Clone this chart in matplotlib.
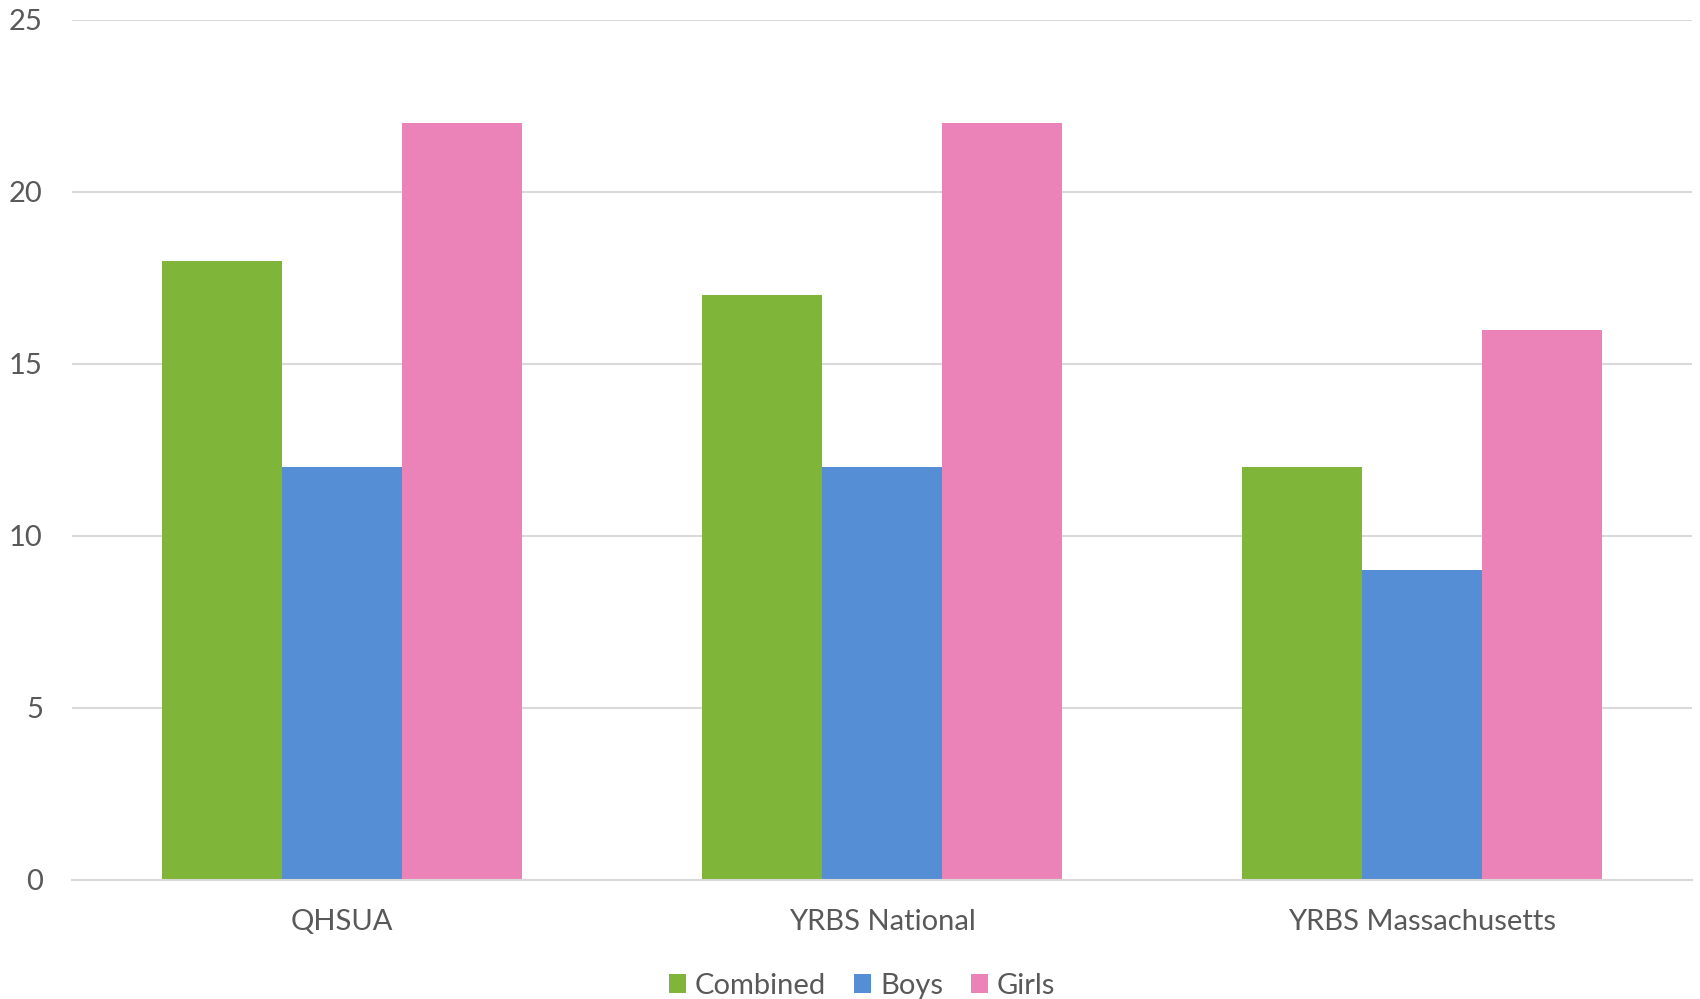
import numpy as np
import matplotlib.pyplot as plt

categories = ["QHSUA", "YRBS National", "YRBS Massachusetts"]
series = ["Combined", "Boys", "Girls"]
combined = [18, 17, 12]
boys = [12, 12, 9]
girls = [22, 22, 16]
yticks = [0, 5, 10, 15, 20, 25]

colors = ["#7FB539", "#558ED5", "#EC83B8"]
text_col = "#595959"
plt.rcParams["font.family"] = ["Lato", "DejaVu Sans"]

fig = plt.figure(figsize=(17, 9.99), dpi=100)
ax = fig.add_axes([72/1700, 1-880/999, 1620/1700, 860/999])

x = np.arange(len(categories))
w = 120/540
for i, (vals, name) in enumerate(zip([combined, boys, girls], series)):
	ax.bar(x + (i-1)*w, vals, w, color=colors[i], label=name, zorder=2, linewidth=0)

ax.set_xlim(-0.5, len(categories)-0.5)
ax.set_ylim(0, 25)
ax.set_yticks(yticks)
ax.yaxis.grid(True, color="#d9d9d9", linewidth=1.5, zorder=0)
ax.set_axisbelow(True)
for s in ["top", "right", "left"]:
	ax.spines[s].set_visible(False)
ax.spines["bottom"].set_color("#d9d9d9")
ax.spines["bottom"].set_linewidth(1.5)
ax.set_xticks(x)
ax.set_xticklabels(categories)
ax.tick_params(axis="both", length=0, labelsize=21, colors=text_col)
ax.tick_params(axis="y", pad=21)
ax.tick_params(axis="x", pad=21)

fig.legend(loc="lower center", bbox_to_anchor=(0.507, -0.026), ncol=3, frameon=False,
	fontsize=21, handlelength=0.6, handleheight=0.6, handletextpad=0.3, columnspacing=0.95,
	labelcolor=text_col)

fig.savefig("out.png", dpi=100)
